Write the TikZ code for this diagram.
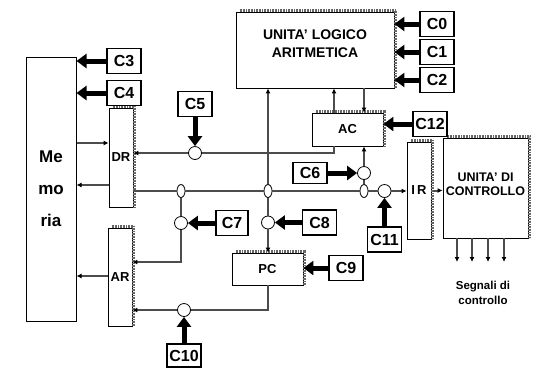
\documentclass[tikz,border=0pt]{standalone}
\usepackage{fontspec}
\setmainfont{Liberation Sans}
\usetikzlibrary{arrows.meta,shapes.geometric}
\definecolor{BusClr}{rgb}{0.3,0.3,0.3}
\definecolor{HatchClr}{rgb}{0.4,0.4,0.4}

\begin{document}
\begin{tikzpicture}[x=1pt,y=-1pt,
  unit/.style={draw=black,fill=white,line width=0.8pt,inner sep=0pt,font=\bfseries\fontsize{13}{14}\selectfont},
  cbox/.style={draw=black,fill=white,line width=1.2pt,inner sep=0pt,minimum width=34pt,minimum height=25pt,font=\bfseries\fontsize{16}{16}\selectfont},
  gate/.style={circle,draw=black,fill=white,line width=0.8pt,inner sep=0pt,minimum size=13pt},
  tap/.style={ellipse,draw=black,fill=white,line width=0.8pt,inner sep=0pt,minimum width=8pt,minimum height=13pt},
  bus/.style={draw=BusClr,line width=2pt},
  busarr/.style={bus,-{Latex[length=5pt,width=5pt,color=black]}},
  ctl/.style={line width=5pt,-{Triangle[length=10pt,width=14pt]}},
  hatch/.style={draw=HatchClr,line width=3pt,dash pattern=on 0.8pt off 0.8pt}]
\useasboundingbox (0,0) rectangle (537,368);

% registers and units
\node[draw=black,line width=1pt,minimum width=50pt,minimum height=264pt,align=center,
  font=\bfseries\fontsize{17}{32}\selectfont] (mem) at (51,189) {Me\\mo\\ria};
\node[unit,minimum width=24pt,minimum height=99pt] (dr) at (121,157.5) {DR};
\node[unit,minimum width=24pt,minimum height=98pt] (ar) at (120,277) {AR};
\node[unit,minimum width=158pt,minimum height=76pt] (alu) at (315,50) {};
\node[align=center,font=\bfseries\fontsize{14}{18}\selectfont] (alutxt) at (315,44) {UNITA’ LOGICO\\ARITMETICA};
\node[unit,minimum width=71pt,minimum height=33pt] (ac) at (347.5,129.5) {AC};
\node[unit,minimum width=24pt,minimum height=97pt] (ir) at (419,190.5) {I\,R};
\node[unit,minimum width=85pt,minimum height=100pt] (cu) at (485.5,188) {};
\node[align=center,font=\bfseries\fontsize{12.5}{14}\selectfont] (cutxt) at (485.5,184) {UNITA’ DI\\CONTROLLO};
\node[unit,minimum width=71pt,minimum height=32pt] (pc) at (267.5,269) {PC};

\foreach \b in {alu,ac,dr,ar,ir,cu,pc}
  \draw[hatch] ([xshift=4pt,yshift=1.5pt]\b.north west) -- ([xshift=1.5pt,yshift=1.5pt]\b.north east) -- ([xshift=1.5pt]\b.south east);

% gates and taps
\node[gate] (g5) at (195,153) {};
\node[gate] (g6) at (364,173) {};
\node[gate] (g7) at (181,223) {};
\node[gate] (g8) at (268,222.5) {};
\node[gate] (g10) at (184,310) {};
\node[gate] (g11) at (384.5,191) {};
\node[tap] (j1) at (181,191) {};
\node[tap] (j2) at (268,191) {};
\node[tap] (j3) at (364,191) {};

% control signals
\node[cbox] (c0) at (437,24) {C0};
\node[cbox] (c1) at (437,52) {C1};
\node[cbox] (c2) at (437,80) {C2};
\node[cbox] (c3) at (124,61) {C3};
\node[cbox] (c4) at (124,93) {C4};
\node[cbox] (c5) at (195,104) {C5};
\node[cbox] (c12) at (430,124) {C12};
\node[cbox,minimum height=21pt] (c6) at (310,173) {C6};
\node[cbox,minimum width=32pt] (c7) at (232,223) {C7};
\node[cbox] (c8) at (319.5,222.5) {C8};
\node[cbox] (c9) at (346,268) {C9};
\node[cbox,minimum height=23pt] (c10) at (184,355.5) {C10};
\node[cbox] (c11) at (384.5,239.5) {C11};

% buses
\draw[busarr] (mem.east |- 0,143) -- (dr.west |- 0,143);
\draw[busarr] (dr.west |- 0,185) -- (mem.east |- 0,185);
\draw[busarr] (ar.west |- 0,276) -- (mem.east |- 0,276);
\draw[busarr] ([xshift=-13.5pt]ac.north) -- ([xshift=-13.5pt]ac.north |- alu.south);
\draw[busarr] ([xshift=16.5pt]ac.north |- alu.south) -- ([xshift=16.5pt]ac.north);
\draw[bus] ([xshift=-13.5pt]ac.south) |- (g5);
\draw[busarr] (g5) -- (g5 -| dr.east);
\draw[bus] (dr.east |- j1) -- (j1) -- (j2) -- (j3) -- (g11);
\draw[busarr] (g11) -- (g11 -| ir.west);
\draw[bus] (j3) -- (g6);
\draw[busarr] (g6) -- (g6 |- ac.south);
\draw[busarr] (j2) -- (j2 |- alu.south);
\draw[bus] (j2) -- (g8);
\draw[busarr] (g8) -- (g8 |- pc.north);
\draw[bus] (j1) -- (g7);
\draw[busarr] (g7) |- ([yshift=15pt]ar.east);
\draw[bus] (pc.south) |- (g10);
\draw[busarr] (g10) -- (g10 -| ar.east);
\draw[busarr] ([xshift=2pt]ir.east) -- (ir.east -| cu.west);
\foreach \i/\x in {1/457,2/472,3/488,4/504} {
  \coordinate (s\i) at (\x,262);
  \draw[busarr] (cu.south -| s\i) -- (s\i);
}
\node[align=center,font=\bfseries\fontsize{11.5}{15}\selectfont] (sig) at (483,293) {Segnali di\\controllo};

% control arrows
\draw[ctl] (c0) -- (c0 -| alu.east);
\draw[ctl] (c1) -- (c1 -| alu.east);
\draw[ctl] (c2) -- (c2 -| alu.east);
\draw[ctl] (c3) -- (c3 -| mem.east);
\draw[ctl] (c4) -- (c4 -| mem.east);
\draw[ctl] (c5) -- (g5);
\draw[ctl] (c12) -- (c12 -| ac.east);
\draw[ctl] (c6) -- (g6);
\draw[ctl] (c7) -- (g7);
\draw[ctl] (c8) -- (g8);
\draw[ctl] (c9) -- (c9 -| pc.east);
\draw[ctl] (c10) -- (g10);
\draw[ctl] (c11) -- (g11);

\end{tikzpicture}
\end{document}
